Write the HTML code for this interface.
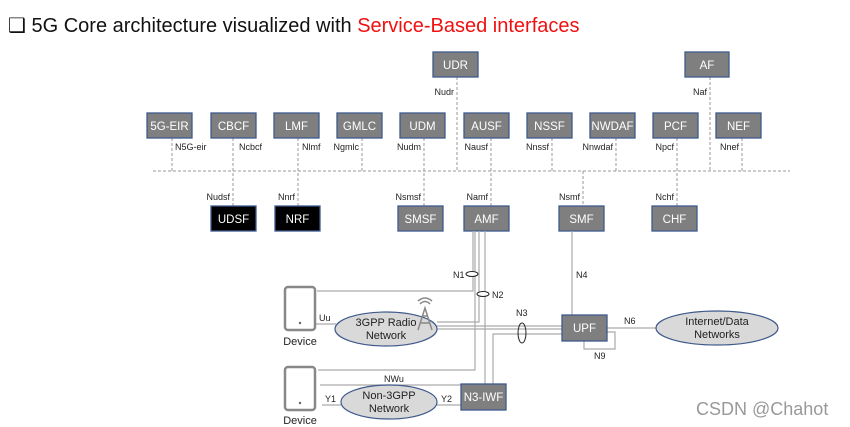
<!DOCTYPE html>
<html><head><meta charset="utf-8"><style>
html,body{margin:0;padding:0;background:#fff;}
svg{display:block;font-family:"Liberation Sans",Arial,sans-serif;}
.b{fill:#7f7f7f;stroke:#3f5a8c;stroke-width:1.3}
.k{fill:#000;stroke:#3f5a8c;stroke-width:1.3}
.bt{fill:#fff;font-size:11.5px;text-anchor:middle}
.l{font-size:9px;fill:#222}
.d{stroke:#999;stroke-width:1;stroke-dasharray:3,2;fill:none}
.s{stroke:#aaa;stroke-width:1.2;fill:none}
.e{fill:#d9d9d9;stroke:#3f5a8c;stroke-width:1.2}
.et{font-size:11px;fill:#222;text-anchor:middle}
</style></head><body>
<svg width="850" height="427" viewBox="0 0 850 427">
<text x="8" y="32" font-size="20" fill="#111" font-family="'Liberation Sans','DejaVu Sans',sans-serif">❑ 5G Core architecture visualized with <tspan fill="#f01010">Service-Based interfaces</tspan></text>

<line class="d" x1="153" y1="171" x2="790" y2="171"/>
<path class="d" d="M172 138V171 M233 138V206 M298 138V206 M362 138V171 M424 138V206 M457 77V171 M491 138V206 M552 138V171 M616 138V171 M677 138V206 M710 77V171 M742 138V171 M583 171V206"/>

<g class="l">
<text x="175" y="150">N5G-eir</text>
<text x="239" y="150">Ncbcf</text>
<text x="302" y="150">Nlmf</text>
<text x="359" y="150" text-anchor="end">Ngmlc</text>
<text x="421" y="150" text-anchor="end">Nudm</text>
<text x="488" y="150" text-anchor="end">Nausf</text>
<text x="549" y="150" text-anchor="end">Nnssf</text>
<text x="613" y="150" text-anchor="end">Nnwdaf</text>
<text x="674" y="150" text-anchor="end">Npcf</text>
<text x="739" y="150" text-anchor="end">Nnef</text>
<text x="454" y="95" text-anchor="end">Nudr</text>
<text x="707" y="95" text-anchor="end">Naf</text>
<text x="230" y="200" text-anchor="end">Nudsf</text>
<text x="295" y="200" text-anchor="end">Nnrf</text>
<text x="421" y="200" text-anchor="end">Nsmsf</text>
<text x="488" y="200" text-anchor="end">Namf</text>
<text x="580" y="200" text-anchor="end">Nsmf</text>
<text x="674" y="200" text-anchor="end">Nchf</text>
</g>

<g>
<rect class="b" x="433" y="52" width="45" height="25"/><text class="bt" x="455.5" y="69">UDR</text>
<rect class="b" x="685" y="52" width="44" height="25"/><text class="bt" x="707" y="69">AF</text>
<rect class="b" x="147" y="113" width="45" height="25"/><text class="bt" x="169.5" y="130">5G-EIR</text>
<rect class="b" x="211" y="113" width="45" height="25"/><text class="bt" x="233.5" y="130">CBCF</text>
<rect class="b" x="274" y="113" width="45" height="25"/><text class="bt" x="296.5" y="130">LMF</text>
<rect class="b" x="337" y="113" width="45" height="25"/><text class="bt" x="359.5" y="130">GMLC</text>
<rect class="b" x="400" y="113" width="45" height="25"/><text class="bt" x="422.5" y="130">UDM</text>
<rect class="b" x="464" y="113" width="45" height="25"/><text class="bt" x="486.5" y="130">AUSF</text>
<rect class="b" x="527" y="113" width="45" height="25"/><text class="bt" x="549.5" y="130">NSSF</text>
<rect class="b" x="590" y="113" width="45" height="25"/><text class="bt" x="612.5" y="130">NWDAF</text>
<rect class="b" x="653" y="113" width="45" height="25"/><text class="bt" x="675.5" y="130">PCF</text>
<rect class="b" x="716" y="113" width="45" height="25"/><text class="bt" x="738.5" y="130">NEF</text>
<rect class="k" x="211" y="206" width="45" height="25"/><text class="bt" x="233.5" y="223">UDSF</text>
<rect class="k" x="275" y="206" width="45" height="25"/><text class="bt" x="297.5" y="223">NRF</text>
<rect class="b" x="398" y="206" width="45" height="25"/><text class="bt" x="420.5" y="223">SMSF</text>
<rect class="b" x="464" y="206" width="45" height="25"/><text class="bt" x="486.5" y="223">AMF</text>
<rect class="b" x="559" y="206" width="45" height="25"/><text class="bt" x="581.5" y="223">SMF</text>
<rect class="b" x="652" y="206" width="45" height="25"/><text class="bt" x="674.5" y="223">CHF</text>
</g>

<path class="s" d="M473 231V291H317 M479 231V322H437 M475 231V370H318 M485 231V384
M437 326H562 M437 329H562 M493 384V334H562
M572 231V315
M607 332H615V349H584V341
M607 328H656
M316 324H336
M320 385H461
M322 405H341 M437 405H461"/>
<ellipse cx="472" cy="274" rx="6" ry="2.5" fill="#fff" stroke="#222" stroke-width="1"/>
<ellipse cx="483" cy="294" rx="6" ry="2.5" fill="#fff" stroke="#222" stroke-width="1"/>
<ellipse cx="522" cy="333" rx="4" ry="10" fill="none" stroke="#222" stroke-width="1"/>
<g class="l">
<text x="453" y="278">N1</text>
<text x="492" y="298">N2</text>
<text x="516" y="316">N3</text>
<text x="576" y="278">N4</text>
<text x="624" y="324">N6</text>
<text x="594" y="359">N9</text>
<text x="319" y="321">Uu</text>
<text x="384" y="382">NWu</text>
<text x="325" y="402">Y1</text>
<text x="441" y="402">Y2</text>
</g>

<rect class="b" x="562" y="315" width="45" height="26"/><text class="bt" x="584.5" y="332">UPF</text>
<rect class="b" x="461" y="384" width="45" height="26"/><text class="bt" x="483.5" y="401">N3-IWF</text>

<ellipse class="e" cx="386" cy="329" rx="51" ry="17"/>
<text class="et" x="386" y="326">3GPP Radio</text><text class="et" x="386" y="339">Network</text>
<g stroke="#888" stroke-width="1.5" fill="none">
<path d="M418 330L425 308L432 330M420 323H430M422 316H428"/>
<path d="M420 304Q425 299 430 304M418 301Q425 295 432 301"/>
</g>
<ellipse class="e" cx="717" cy="328" rx="61" ry="17"/>
<text class="et" x="717" y="325">Internet/Data</text><text class="et" x="717" y="338">Networks</text>
<ellipse class="e" cx="389" cy="402" rx="48" ry="17"/>
<text class="et" x="389" y="399">Non-3GPP</text><text class="et" x="389" y="412">Network</text>

<rect x="285" y="287" width="30" height="43" rx="3" fill="#fff" stroke="#888" stroke-width="2.5"/>
<circle cx="300" cy="323" r="1.2" fill="#666"/>
<text x="300" y="345" font-size="11" fill="#222" text-anchor="middle">Device</text>
<rect x="285" y="367" width="30" height="43" rx="3" fill="#fff" stroke="#888" stroke-width="2.5"/>
<circle cx="300" cy="403" r="1.2" fill="#666"/>
<text x="300" y="424" font-size="11" fill="#222" text-anchor="middle">Device</text>

<text x="696" y="415" font-size="18" fill="#999" font-family="'Liberation Sans','DejaVu Sans',sans-serif">CSDN @Chahot</text>
</svg>
</body></html>
